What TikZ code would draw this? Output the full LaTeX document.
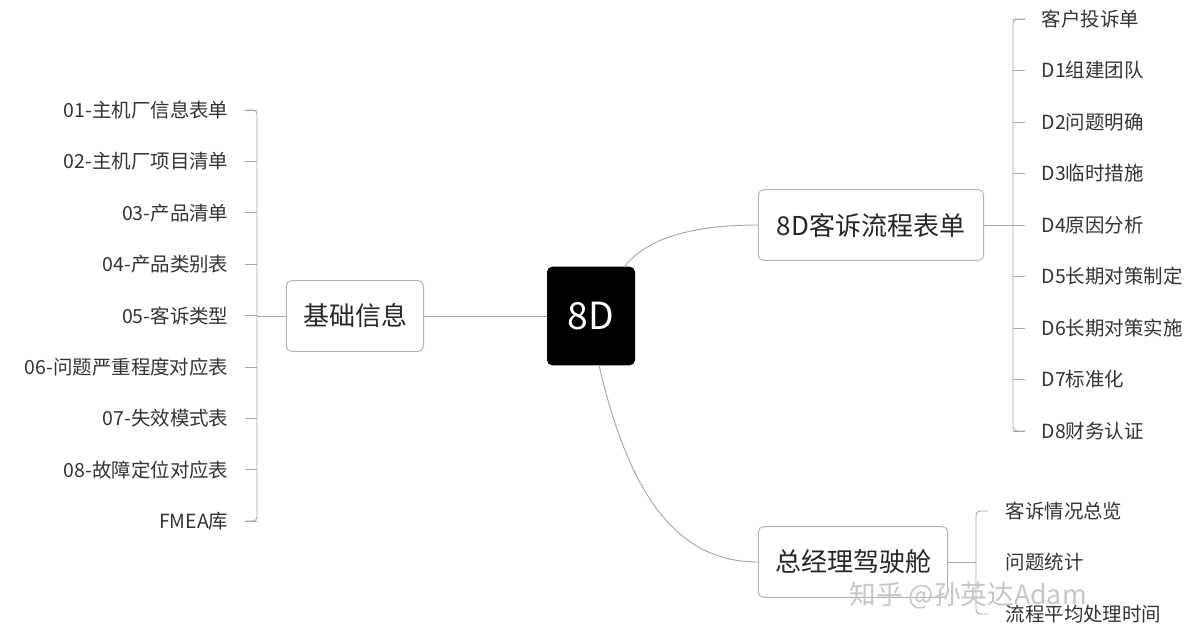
\documentclass[tikz,border=0pt]{standalone}
\usepackage{fontspec}
\setmainfont{Noto Sans CJK SC}
\usetikzlibrary{positioning}

\begin{document}
\begin{tikzpicture}[x=0.75pt,y=-0.75pt]
	
	% ------------------------------------------------------------
	% Styles
	% ------------------------------------------------------------
	\tikzset{
		root/.style={fill=black,text=white,rounded corners=4pt,
			minimum width=66pt,minimum height=74pt,font=\fontsize{28}{30}\selectfont},
		topic/.style={draw=gray!60,fill=white,rounded corners=4pt,line width=0.7pt,
			minimum height=53pt,inner xsep=10pt,font=\fontsize{19.5}{22}\selectfont,text=black!85},
		leaf/.style={font=\fontsize{14.6}{16}\selectfont,text=black!80,inner sep=1pt},
		branch/.style={draw=gray!70,line width=0.7pt},
		brace/.style={draw=gray!70,line width=0.7pt,rounded corners=3pt}
	}
	\useasboundingbox (0,0) rectangle (1200,640);
	
	% ============================================================
	% Center and main topics
	% ============================================================
	\node[root] (root) at (591,316) {8D};
	\node[topic,minimum width=103pt] (base) at (355,316) {基础信息};
	\node[topic,minimum width=169pt] (flow) at (871,225) {8D客诉流程表单};
	\node[topic,minimum width=142pt] (boss) at (853,562) {总经理驾驶舱};
	
	\coordinate (rtop) at (625,266);
	\coordinate (rbot) at (599,365);
	\draw[branch] (root.west) -- (base.east);
	\draw[branch] (rtop) .. controls (650,235) and (700,225) .. (flow.west);
	\draw[branch] (rbot) .. controls (630,500) and (680,562) .. (boss.west);
	
	% ============================================================
	% LEFT: leaves of 基础信息
	% ============================================================
	\coordinate (bl) at (257,316);
	\draw[branch] (base.west) -- (bl);
	\draw[brace] (245,110) -| (257,521) -- (245,521);
	\foreach \t [count=\i] in {01-主机厂信息表单,02-主机厂项目清单,03-产品清单,
		04-产品类别表,05-客诉类型,06-问题严重程度对应表,07-失效模式表,
		08-故障定位对应表,FMEA库}{
		\pgfmathsetmacro\yy{110+51.4*(\i-1)}
		\node[leaf,anchor=east] (b\i) at (230,\yy) {\t};
		\draw[branch] (245,\yy) -- (257,\yy);
	}
	
	% ============================================================
	% RIGHT TOP: leaves of 8D客诉流程表单
	% ============================================================
	\coordinate (fl) at (1013,225);
	\draw[branch] (flow.east) -- (fl);
	\draw[brace] (1025,19) -| (1013,431) -- (1025,431);
	\foreach \t [count=\i] in {客户投诉单,D1组建团队,D2问题明确,D3临时措施,
		D4原因分析,D5长期对策制定,D6长期对策实施,D7标准化,D8财务认证}{
		\pgfmathsetmacro\yy{19+51.5*(\i-1)}
		\node[leaf,anchor=west] (f\i) at (1040,\yy) {\t};
		\draw[branch] (1013,\yy) -- (1025,\yy);
	}
	
	% ============================================================
	% RIGHT BOTTOM: leaves of 总经理驾驶舱
	% ============================================================
	\coordinate (gl) at (976,562);
	\draw[branch] (boss.east) -- (gl);
	\draw[brace] (988,511) -| (976,614) -- (988,614);
	\foreach \t [count=\i] in {客诉情况总览,问题统计,流程平均处理时间}{
		\pgfmathsetmacro\yy{511+51.5*(\i-1)}
		\node[leaf,anchor=west] (g\i) at (1004,\yy) {\t};
	}
	
	% Watermark
	\node[font=\fontsize{20}{22}\selectfont,text=gray!45,anchor=west] (mark) at (845,596) {知乎 @孙英达Adam};
	
\end{tikzpicture}
\end{document}
